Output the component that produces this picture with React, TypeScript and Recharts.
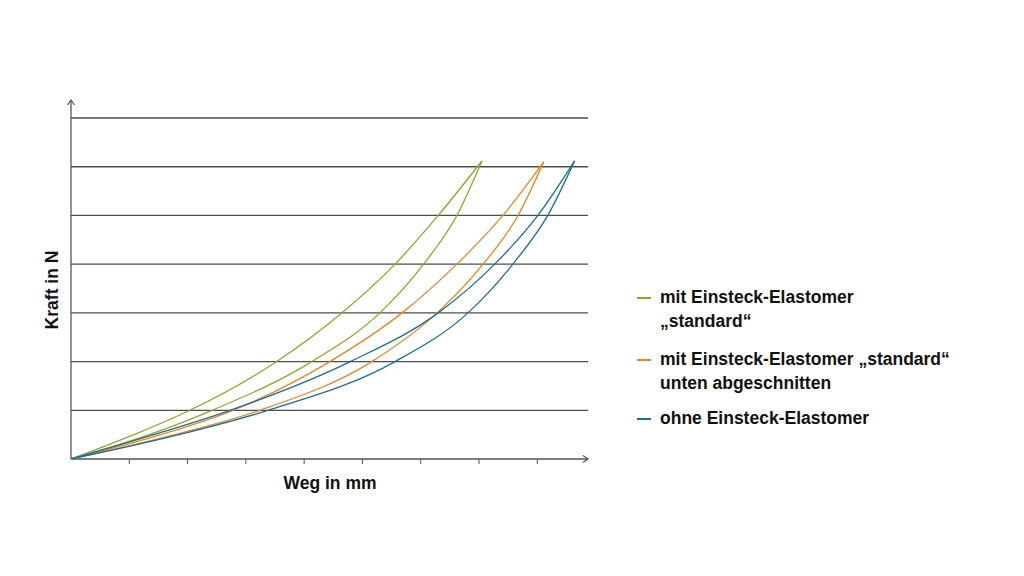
import React from 'react'
import { LineChart, Line, XAxis, YAxis, ReferenceLine, ReferenceDot } from 'recharts'

const kraft = [0, 0.5, 1, 2, 3, 4, 5]

// Weg in mm je Kurve bei den Kraft-Stufen oben
const gruenOben = [0, 1.08, 2.04, 3.53, 4.65, 5.56, 6.3]
const gruenUnten = [0, 1.34, 2.42, 4.13, 5.3, 6.05, 6.62]
const orangeOben = [0, 1.54, 2.78, 4.44, 5.68, 6.62, 7.41]
const orangeUnten = [0, 1.78, 3.24, 5.16, 6.28, 7.07, 7.67]
const blauOben = [0, 1.42, 2.73, 4.79, 6.3, 7.27, 8.01]
const blauUnten = [0, 1.85, 3.38, 5.56, 6.81, 7.58, 8.18]

// Umkehrpunkte (Weg, Kraft)
const gruenSpitze = [7.05, 6.12]
const orangeSpitze = [8.11, 6.1]
const blauSpitze = [8.64, 6.12]

const xTicks = [1, 2, 3, 4, 5, 6, 7, 8]
const yTicks = [1, 2, 3, 4, 5, 6, 7]
const xMax = 8.87
const yMax = 7.37

const GREEN = '#93a628'
const ORANGE = '#ef8420'
const BLUE = '#1c6f98'
const AXIS = '#555'
const GRID = '#4d4d4d'

const toPoints = (weg: number[], spitze: number[]) => [
  ...weg.map((w, i) => ({ weg: w, kraft: kraft[i] })),
  { weg: spitze[0], kraft: spitze[1] },
]

const curves = [
  { key: 'gruenOben', data: toPoints(gruenOben, gruenSpitze), color: GREEN },
  { key: 'gruenUnten', data: toPoints(gruenUnten, gruenSpitze), color: GREEN },
  { key: 'orangeOben', data: toPoints(orangeOben, orangeSpitze), color: ORANGE },
  { key: 'orangeUnten', data: toPoints(orangeUnten, orangeSpitze), color: ORANGE },
  { key: 'blauOben', data: toPoints(blauOben, blauSpitze), color: BLUE },
  { key: 'blauUnten', data: toPoints(blauUnten, blauSpitze), color: BLUE },
]

const legend = [
  { lines: ['mit Einsteck-Elastomer', '\u201Estandard\u201C'], color: GREEN, top: 285 },
  { lines: ['mit Einsteck-Elastomer \u201Estandard\u201C', 'unten abgeschnitten'], color: ORANGE, top: 347 },
  { lines: ['ohne Einsteck-Elastomer'], color: BLUE, top: 406 },
]

const font = '"Liberation Sans", Arial, Helvetica, sans-serif'
const textSize = 17.5

const UpArrow = (props: any) => {
  const { cx, cy } = props
  return <path d={`M${cx - 3.5},${cy + 5} L${cx},${cy} L${cx + 3.5},${cy + 5}`} fill="none" stroke={AXIS} strokeWidth={1.2} />
}

const RightArrow = (props: any) => {
  const { cx, cy } = props
  return <path d={`M${cx - 5},${cy - 3.5} L${cx},${cy} L${cx - 5},${cy + 3.5}`} fill="none" stroke={AXIS} strokeWidth={1.2} />
}

const TickMark = (props: any) => {
  const { cx, cy } = props
  return <line x1={cx} x2={cx} y1={cy} y2={cy + 5} stroke={AXIS} strokeWidth={1} />
}

export default function App() {
  return (
    <div style={{ position: 'absolute', left: 0, top: 0, width: 1024, height: 576, background: '#fff', fontFamily: font }}>
      <LineChart width={1024} height={576} margin={{ top: 100, right: 436, bottom: 116, left: 70 }}>
        <XAxis
          type="number"
          dataKey="weg"
          domain={[0, xMax]}
          ticks={xTicks}
          height={1}
          tick={false}
          tickLine={false}
          axisLine={false}
          allowDataOverflow
        />
        <YAxis
          type="number"
          dataKey="kraft"
          domain={[0, yMax]}
          ticks={yTicks}
          width={1}
          tick={false}
          tickLine={false}
          axisLine={false}
          allowDataOverflow
        />
        {yTicks.map((t) => (
          <ReferenceLine key={`g${t}`} y={t} stroke={GRID} strokeWidth={1.3} />
        ))}
        <ReferenceLine x={0} stroke={AXIS} strokeWidth={1.3} />
        <ReferenceLine y={0} stroke={AXIS} strokeWidth={1.3} />
        {curves.map((c) => (
          <Line
            key={c.key}
            data={c.data}
            dataKey="kraft"
            type="monotone"
            stroke={c.color}
            strokeWidth={1.3}
            dot={false}
            isAnimationActive={false}
          />
        ))}
        {xTicks.map((t) => (
          <ReferenceDot key={t} x={t} y={0} r={0} shape={TickMark} />
        ))}
        <ReferenceDot x={0} y={yMax} r={0} shape={UpArrow} />
        <ReferenceDot x={xMax} y={0} r={0} shape={RightArrow} />
      </LineChart>

      <div style={{ position: 'absolute', left: 330, top: 483, transform: 'translate(-50%, -50%)', fontWeight: 700, fontSize: textSize, color: '#111', whiteSpace: 'nowrap' }}>
        Weg in mm
      </div>
      <div
        style={{
          position: 'absolute', left: 52, top: 290, transform: 'translate(-50%, -50%) rotate(-90deg)',
          fontWeight: 700, fontSize: textSize, color: '#111', whiteSpace: 'nowrap',
        }}
      >
        Kraft in N
      </div>

      {legend.map((l) => (
        <div key={l.top} style={{ position: 'absolute', left: 637, top: l.top }}>
          <div style={{ position: 'absolute', left: 0, top: 12, width: 14, height: 1.5, background: l.color }} />
          <div style={{ position: 'absolute', left: 23, top: 0, fontWeight: 700, fontSize: textSize, lineHeight: '24px', color: '#111', whiteSpace: 'nowrap' }}>
            {l.lines.map((t) => (
              <div key={t}>{t}</div>
            ))}
          </div>
        </div>
      ))}
    </div>
  )
}
